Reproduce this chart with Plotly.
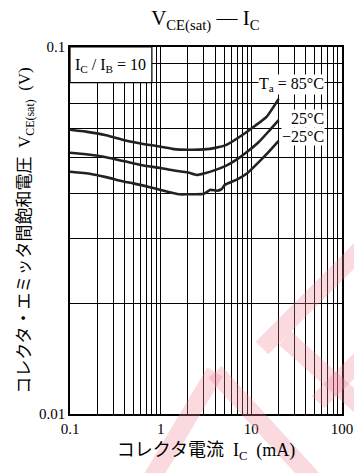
import math
import plotly.graph_objects as go

# コレクタ電流 Ic (mA) と VCE(sat) (V)
ic_85 = [0.1, 0.15, 0.25, 0.4, 0.6, 1.0, 1.4, 2.0, 3.0, 4.0, 5.3, 8.5, 11, 14.7, 20]
v_85 = [0.0595, 0.0588, 0.0575, 0.0557, 0.0546, 0.0535, 0.0527, 0.0525, 0.0526, 0.0531, 0.0541, 0.0582, 0.0610, 0.0645, 0.0722]

ic_25 = [0.1, 0.15, 0.25, 0.4, 0.6, 1.0, 1.4, 2.0, 2.5, 3.0, 5.0, 7.0, 9.0, 12, 16, 20]
v_25 = [0.0515, 0.0510, 0.0501, 0.0488, 0.0477, 0.0468, 0.0461, 0.0455, 0.0448, 0.0452, 0.0472, 0.0495, 0.0518, 0.0550, 0.0594, 0.0632]

ic_m25 = [0.1, 0.17, 0.25, 0.39, 0.5, 0.76, 1.0, 1.6, 2.0, 3.0, 3.5, 4.2, 4.7, 5.1, 7.0, 9.0, 12, 15, 20]
v_m25 = [0.0457, 0.0451, 0.0442, 0.0430, 0.0425, 0.0415, 0.0408, 0.0397, 0.0397, 0.0398, 0.0408, 0.0406, 0.0410, 0.0421, 0.0436, 0.0453, 0.0485, 0.0513, 0.0555]

x_ticks = [0.1, 1, 10, 100]
x_tick_text = ["0.1", "1", "10", "100"]
y_ticks = [0.01, 0.1]
y_tick_text = ["0.01", "0.1"]
x_minor = [m * d for d in (0.1, 1, 10) for m in range(2, 10)]
y_minor = [m * 0.01 for m in range(2, 10)]

SERIF = "Liberation Serif, Noto Sans CJK JP"

fig = go.Figure()
for ic, v in [(ic_85, v_85), (ic_25, v_25), (ic_m25, v_m25)]:
    fig.add_trace(go.Scatter(x=ic, y=v, mode="lines",
                             line=dict(color="#222222", width=2.6, shape="spline", smoothing=0.6),
                             showlegend=False, hoverinfo="skip"))

axis_common = dict(
    type="log", automargin=False,
    showline=True, linecolor="black", linewidth=1.5, mirror=True,
    showgrid=True, gridcolor="black", gridwidth=1,
    ticks="", zeroline=False,
    tickfont=dict(family=SERIF, size=15, color="black"),
)

fig.update_xaxes(
    **axis_common,
    range=[-1, 2],
    tickvals=x_ticks, ticktext=x_tick_text,
    minor=dict(tickvals=x_minor, showgrid=True, gridcolor="black", gridwidth=1, ticks=""),
    title=dict(text="コレクタ電流  I<sub>C</sub>  (mA)", font=dict(family=SERIF, size=18, color="black"), standoff=8),
)
fig.update_yaxes(
    **axis_common,
    range=[-2, -1],
    tickvals=y_ticks, ticktext=y_tick_text,
    minor=dict(tickvals=y_minor, showgrid=True, gridcolor="black", gridwidth=1, ticks=""),
    title=dict(text="コレクタ・エミッタ間飽和電圧  V<sub>CE(sat)</sub>  (V)",
               font=dict(family=SERIF, size=17, color="black"), standoff=4),
)

# IC/IB 条件ボックス
fig.add_shape(type="rect", xref="x", yref="y", x0=0.1, x1=0.8, y0=0.08, y1=0.1,
              fillcolor="white", line=dict(color="black", width=1.2), layer="above")
fig.add_annotation(x=math.log10(0.28), y=math.log10(0.0893), xref="x", yref="y", showarrow=False,
                   text="I<sub>C</sub> / I<sub>B</sub> = 10",
                   font=dict(family=SERIF, size=16, color="black"))

labels = [("T<sub>a</sub> = 85°C", 0.0788), ("25°C", 0.0637), ("−25°C", 0.0572)]
for txt, yv in labels:
    fig.add_annotation(x=math.log10(65), y=math.log10(yv), xref="x", yref="y", xanchor="right",
                       showarrow=False, text=txt, bgcolor="white", borderpad=0,
                       font=dict(family=SERIF, size=16, color="black"))

# ウォーターマーク（ピンクの斜線）
def px2paper(px, py):
    return (px - 70) / 272, (414 - py) / 367

stripes = [((145, 490), (215, 372)), ((215, 372), (318, 485)),
           ((262, 348), (365, 245)), ((285, 338), (365, 410)), ((318, 402), (365, 355))]
for (a, b) in stripes:
    x0, y0 = px2paper(*a)
    x1, y1 = px2paper(*b)
    fig.add_shape(type="line", xref="paper", yref="paper", x0=x0, y0=y0, x1=x1, y1=y1,
                  line=dict(color="rgba(240,130,150,0.3)", width=18), layer="above")

fig.update_layout(
    template="none",
    title=dict(text="V<sub>CE(sat)</sub> — I<sub>C</sub>", x=0.58, xanchor="center",
               yref="container", y=1 - 18 / 473, yanchor="middle",
               font=dict(family=SERIF, size=21, color="black")),
    width=354, height=473,
    margin=dict(l=70, r=12, t=47, b=59),
    paper_bgcolor="white", plot_bgcolor="white",
)

# ページ余白を消してウィンドウにぴったり合わせる
fig.write_html("out.html", config={"displayModeBar": False},
               post_script="document.body.style.margin='0';document.body.style.overflow='hidden';")
